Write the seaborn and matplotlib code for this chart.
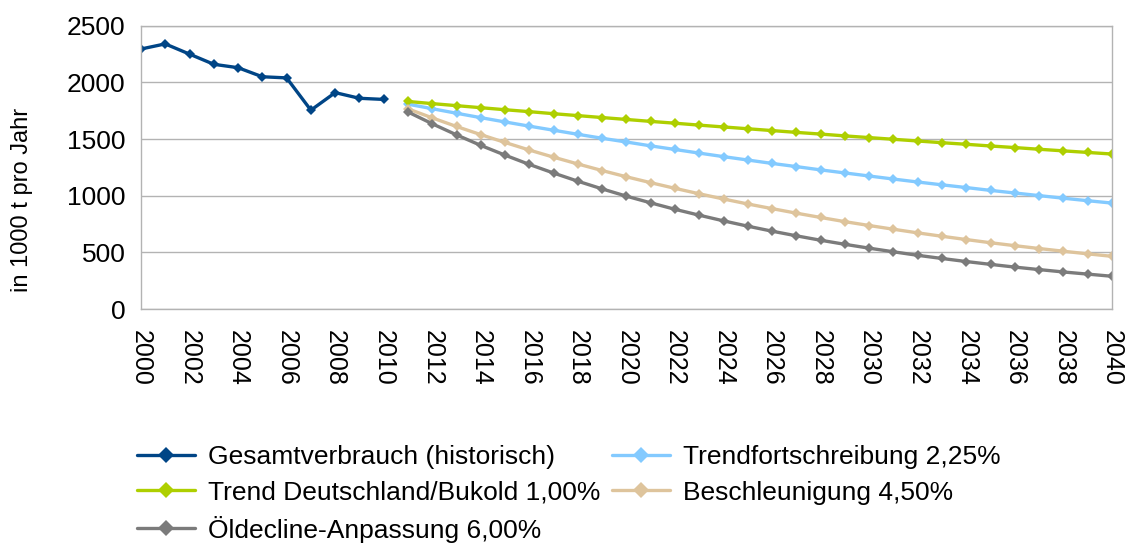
import matplotlib
matplotlib.use('Agg')
import matplotlib.pyplot as plt
from matplotlib.lines import Line2D
import pandas as pd
import seaborn as sns

sns.set_style('white')
plt.rcParams['font.family'] = ['Liberation Sans', 'DejaVu Sans']
plt.rcParams['text.color'] = 'black'
plt.rcParams['xtick.labelcolor'] = 'black'
plt.rcParams['ytick.labelcolor'] = 'black'
plt.rcParams['axes.labelcolor'] = 'black'

# data (in 1000 t per year)
years_hist = list(range(2000, 2011))
hist = [2295, 2340, 2250, 2160, 2130, 2050, 2040, 1755, 1910, 1860, 1850]

years_proj = list(range(2011, 2041))
trend_de = [1832, 1813, 1795, 1777, 1759, 1742, 1724, 1707, 1690, 1673,
            1656, 1640, 1623, 1607, 1591, 1575, 1559, 1544, 1528, 1513,
            1498, 1483, 1468, 1454, 1439, 1425, 1410, 1396, 1382, 1368]
trendfort = [1808, 1768, 1728, 1689, 1651, 1614, 1578, 1542, 1507, 1474,
             1440, 1408, 1376, 1345, 1315, 1285, 1257, 1228, 1201, 1174,
             1147, 1121, 1096, 1072, 1047, 1024, 1001, 978, 956, 935]
beschl = [1767, 1687, 1611, 1539, 1470, 1403, 1340, 1280, 1222, 1167,
          1115, 1065, 1017, 971, 927, 886, 846, 808, 771, 737,
          704, 672, 642, 613, 585, 559, 534, 510, 487, 465]
oeldecline = [1739, 1635, 1537, 1444, 1358, 1276, 1200, 1128, 1060, 996,
              937, 880, 828, 778, 731, 687, 646, 607, 571, 537,
              505, 474, 446, 419, 394, 370, 348, 327, 308, 289]

labels = ['Gesamtverbrauch (historisch)', 'Trendfortschreibung 2,25%',
          'Trend Deutschland/Bukold 1,00%', 'Beschleunigung 4,50%',
          'Öldecline-Anpassung 6,00%']
colors = ['#004586', '#83caff', '#aecf00', '#dec49c', '#7b7b7b']

frames = [pd.DataFrame({'year': years_hist, 'value': hist, 'series': labels[0]})]
for lab, vals in zip(labels[1:], [trendfort, trend_de, beschl, oeldecline]):
    frames.append(pd.DataFrame({'year': years_proj, 'value': vals, 'series': lab}))
df = pd.concat(frames, ignore_index=True)

fig = plt.figure(figsize=(11.25, 5.45), dpi=100)
ax = fig.add_axes([0.1253, 0.433, 0.8631, 0.5197])

sns.lineplot(data=df, x='year', y='value', hue='series', hue_order=labels,
             palette=colors, marker='D', markersize=5, markeredgewidth=0,
             linewidth=2.4, legend=False, ax=ax)

ax.set_xlim(2000, 2040)
ax.set_ylim(0, 2500)
ax.set_yticks(range(0, 2501, 500))
ax.set_xticks(range(2000, 2041))
ax.set_xticklabels([str(y) if y % 2 == 0 else '' for y in range(2000, 2041)],
                   rotation=-90)
ax.grid(axis='y', color='#b3b3b3', linewidth=1)
ax.grid(axis='x', visible=False)
for s in ax.spines.values():
    s.set_color('#b3b3b3')
    s.set_linewidth(1)
ax.tick_params(axis='both', which='both', direction='out', length=8,
               color='#b3b3b3', width=1, pad=3)
ax.tick_params(axis='y', labelsize=19)
ax.tick_params(axis='x', labelsize=18, pad=7)
ax.set_xlabel('')
ax.set_ylabel('in 1000 t pro Jahr', fontsize=17)
ax.yaxis.set_label_coords(-0.111, 0.385)

# legend in the original order: 3 rows, 2 columns
order = [0, 2, 4, 1, 3]
handles = [Line2D([], [], color=colors[i], linewidth=2.4, marker='D',
                  markersize=8, markeredgewidth=0) for i in order]
fig.legend(handles, [labels[i] for i in order], ncol=2, loc='upper left',
           bbox_to_anchor=(0.112, 0.202), frameon=False, fontsize=19,
           handlelength=2.2, handletextpad=0.5, columnspacing=0.45,
           labelspacing=0.42, borderaxespad=0)

fig.savefig('out.png', dpi=100)
